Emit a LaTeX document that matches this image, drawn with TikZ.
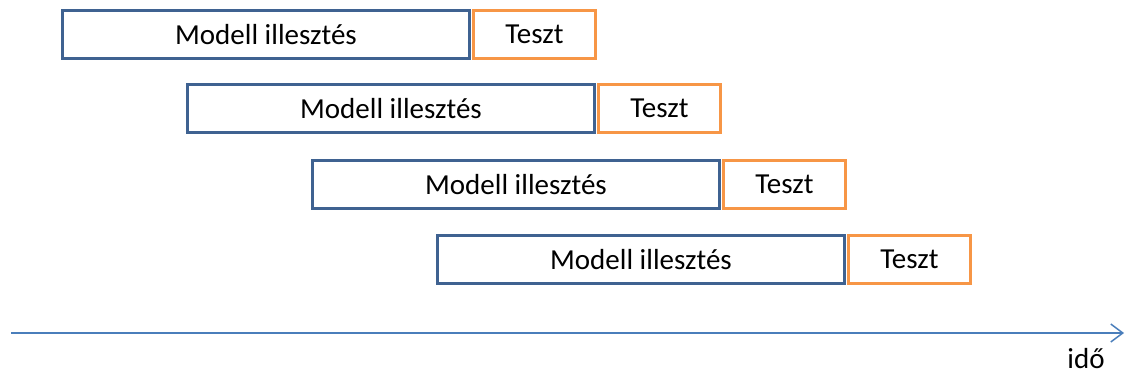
\documentclass[tikz,border=0pt]{standalone}
\usepackage{fontspec}
\setmainfont{Carlito}
\usetikzlibrary{positioning,arrows.meta}
\definecolor{fitblue}{HTML}{3F6291}
\definecolor{testorange}{HTML}{F79646}
\definecolor{axisblue}{HTML}{4A7EBB}

\begin{document}
\begin{tikzpicture}[x=1pt, y=1pt, node distance=1pt,
  fitbox/.style={draw=fitblue, line width=3pt, inner sep=0pt, minimum width=407pt, minimum height=48pt, font=\fontsize{29}{34}\selectfont},
  testbox/.style={draw=testorange, line width=3pt, inner sep=0pt, minimum width=122pt, minimum height=48pt, font=\fontsize{29}{34}\selectfont},
  arr/.style={-{Straight Barb[length=12pt, width=18pt]}, line width=1.5pt, axisblue}]
  \useasboundingbox (0,0) rectangle (1126,379);
  \node[fitbox] (fit1) at (266,344.5) {Modell illesztés};
  \node[testbox, right=of fit1] (test1) {Teszt};
  \node[fitbox] (fit2) at (391,270.5) {Modell illesztés};
  \node[testbox, right=of fit2] (test2) {Teszt};
  \node[fitbox] (fit3) at (516,194.5) {Modell illesztés};
  \node[testbox, right=of fit3] (test3) {Teszt};
  \node[fitbox] (fit4) at (641,119.5) {Modell illesztés};
  \node[testbox, right=of fit4] (test4) {Teszt};
  \coordinate (tstart) at (11,46);
  \coordinate (tend) at (1124,46);
  \draw[arr] (tstart) -- (tend);
  \node[font=\fontsize{29}{34}\selectfont] (ido) at (1086,20) {idő};
\end{tikzpicture}
\end{document}
